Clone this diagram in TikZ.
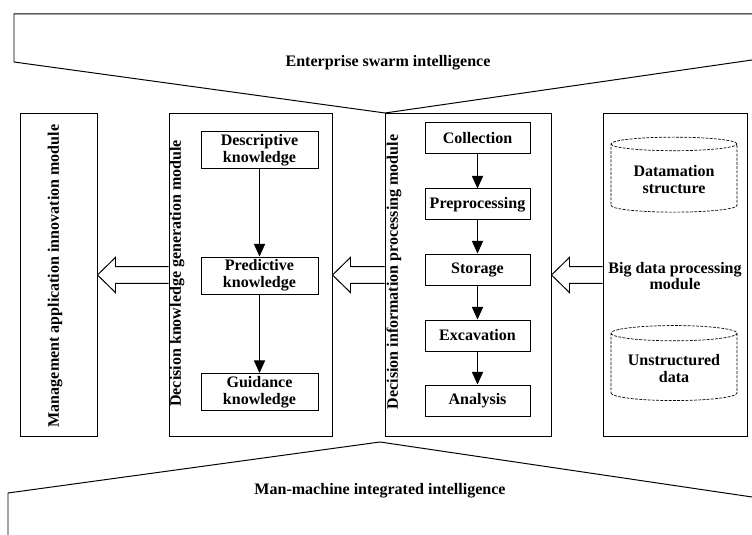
\documentclass[tikz,border=0pt]{standalone}
\usepackage{fontspec}
\setmainfont{Liberation Serif}
\usetikzlibrary{arrows.meta,calc,shapes.geometric}

% wide hollow arrow from #1 (tail) to #2 (tip)
\newcommand{\hollowarrow}[2]{%
  \draw[fill=white] ($(#1)+(0,0.21)$) -- ($(#2)+(0.45,0.21)$) -- ($(#2)+(0.45,0.44)$) -- (#2)
    -- ($(#2)+(0.45,-0.44)$) -- ($(#2)+(0.45,-0.21)$) -- ($(#1)+(0,-0.21)$);}

\begin{document}
\begin{tikzpicture}[line width=0.7pt, font=\fontsize{11.4}{12}\selectfont\bfseries]
  \tikzstyle{module}=[rectangle, draw, minimum height=8.05cm, inner sep=0pt]
  \tikzstyle{sidetext}=[rotate=90, inner sep=0pt]
  \tikzstyle{know}=[rectangle, draw, align=center, inner sep=0pt, minimum width=2.925cm, minimum height=0.925cm]
  \tikzstyle{proc}=[rectangle, draw, align=center, inner sep=0pt, minimum width=2.625cm, minimum height=0.775cm]
  \tikzstyle{store}=[cylinder, shape border rotate=90, aspect=0.15, draw, dash pattern=on 2pt off 1pt, line width=0.5pt, align=center, minimum width=3.15cm, minimum height=1.875cm]
  \tikzstyle{flow}=[-{Triangle[length=9pt,width=8pt]}]

  \useasboundingbox (0,0) rectangle (18.8,13.375);

  % upper and lower bands
  \draw (18.8,13.025) -- (0.35,13.025) -- (0.35,11.825) -- (9.625,10.55) -- (18.8,11.875);
  \node (top) at (9.7,11.8) {Enterprise swarm intelligence};
  \draw (0.2,0) -- (0.2,1.05) -- (9.5,2.325) -- (18.8,0.95);
  \node (bottom) at (9.5,1.1) {Man-machine integrated intelligence};

  % modules
  \node[module, minimum width=1.925cm] (m1) at (1.4625,6.5) {};
  \node[module, minimum width=4.075cm] (m2) at (6.2625,6.5) {};
  \node[module, minimum width=4.15cm] (m3) at (11.7,6.5) {};
  \node[module, minimum width=3.6cm] (m4) at (16.875,6.5) {};

  \node[sidetext] (t1) at (1.375,6.475) {Management application innovation module};
  \node[sidetext] (t2) at (4.425,6.54) {Decision knowledge generation module};
  \node[sidetext] (t3) at (9.85,6.575) {Decision information processing module};

  % knowledge chain
  \node[know] (k1) at (6.4875,9.6125) {Descriptive\\knowledge};
  \node[know] (k2) at (6.4875,6.4875) {Predictive\\knowledge};
  \node[know] (k3) at (6.4875,3.575) {Guidance\\knowledge};

  % processing chain
  \node[proc] (p1) at (11.9375,9.9125) {Collection};
  \node[proc] (p2) at (11.9375,8.2625) {Preprocessing};
  \node[proc] (p3) at (11.9375,6.6375) {Storage};
  \node[proc] (p4) at (11.9375,4.9875) {Excavation};
  \node[proc] (p5) at (11.9375,3.3625) {Analysis};

  % big data
  \node[store] (d1) at (16.85,8.8875) {Datamation\\structure};
  \node[store] (d2) at (16.85,4.1625) {Unstructured\\data};
  \node[align=center] (bd) at (16.875,6.475) {Big data processing\\module};

  \path (k1) edge[flow] (k2);
  \path (k2) edge[flow] (k3);
  \foreach \a/\b in {p1/p2,p2/p3,p3/p4,p4/p5}
    \path (\a) edge[flow] (\b);

  \hollowarrow{m2.west}{m1.east}
  \hollowarrow{m3.west}{m2.east}
  \hollowarrow{m4.west}{m3.east}
\end{tikzpicture}
\end{document}
